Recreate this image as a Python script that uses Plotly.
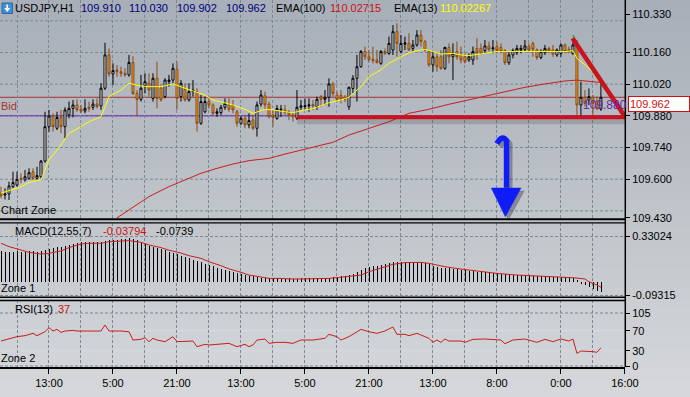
import plotly.graph_objects as go
from plotly.subplots import make_subplots

# ---------------- data ----------------
bar_idx = list(range(151))
opens = [109.538, 109.530, 109.535, 109.567, 109.574, 109.604, 109.597, 109.604, 109.633, 109.604,
 109.611, 109.680, 109.832, 109.879, 109.825, 109.873, 109.832, 109.884, 109.913, 109.928,
 109.909, 109.901, 109.918, 109.918, 109.932, 109.924, 110.002, 110.149, 110.065, 110.083,
 110.075, 110.068, 110.061, 110.116, 109.979, 109.953, 110.013, 110.024, 109.957, 110.046,
 110.002, 109.965, 110.031, 110.038, 110.086, 109.965, 109.997, 109.950, 109.987, 109.987,
 109.847, 109.898, 109.943, 109.928, 109.891, 109.894, 109.918, 109.932, 109.928, 109.898,
 109.847, 109.869, 109.840, 109.862, 109.825, 109.932, 109.968, 109.932, 109.884, 109.869,
 109.906, 109.906, 109.898, 109.884, 109.869, 109.918, 109.921, 109.924, 109.930, 109.920,
 109.965, 109.953, 109.962, 110.021, 109.972, 109.970, 109.962, 109.920, 110.001, 110.046,
 110.097, 110.164, 110.141, 110.130, 110.127, 110.112, 110.164, 110.156, 110.171, 110.252,
 110.164, 110.197, 110.200, 110.178, 110.193, 110.237, 110.208, 110.164, 110.105, 110.141,
 110.141, 110.090, 110.182, 110.141, 110.164, 110.149, 110.141, 110.127, 110.127, 110.178,
 110.178, 110.168, 110.189, 110.176, 110.186, 110.182, 110.168, 110.115, 110.149, 110.159,
 110.171, 110.174, 110.186, 110.200, 110.171, 110.138, 110.159, 110.178, 110.171, 110.149,
 110.156, 110.193, 110.174, 110.156, 110.190, 109.928, 109.962, 109.950, 109.962, 109.945,
 109.910]
highs = [109.567, 109.560, 109.589, 109.633, 109.633, 109.626, 109.641, 109.648, 109.648, 109.655,
 109.685, 109.898, 109.906, 109.891, 109.898, 109.906, 109.918, 109.943, 109.950, 109.953,
 109.928, 109.953, 109.943, 109.953, 109.957, 110.024, 110.203, 110.178, 110.112, 110.105,
 110.097, 110.090, 110.149, 110.144, 109.994, 110.061, 110.068, 110.068, 110.068, 110.119,
 110.016, 110.046, 110.061, 110.112, 110.119, 110.038, 110.024, 110.024, 110.038, 110.002,
 109.972, 109.965, 109.965, 109.935, 109.913, 109.928, 109.957, 109.957, 109.950, 109.906,
 109.879, 109.884, 109.891, 109.884, 109.943, 109.994, 109.987, 109.943, 109.906, 109.928,
 109.928, 109.928, 109.906, 109.898, 109.994, 109.950, 109.957, 109.957, 109.950, 109.965,
 109.972, 109.994, 110.046, 110.031, 109.987, 109.994, 109.972, 110.009, 110.060, 110.149,
 110.171, 110.186, 110.171, 110.186, 110.171, 110.171, 110.178, 110.230, 110.281, 110.289,
 110.237, 110.230, 110.245, 110.215, 110.259, 110.259, 110.215, 110.171, 110.164, 110.156,
 110.171, 110.186, 110.200, 110.200, 110.208, 110.186, 110.156, 110.156, 110.186, 110.223,
 110.200, 110.215, 110.208, 110.215, 110.208, 110.200, 110.174, 110.164, 110.178, 110.193,
 110.193, 110.215, 110.200, 110.208, 110.178, 110.174, 110.193, 110.186, 110.193, 110.178,
 110.200, 110.200, 110.186, 110.215, 110.215, 110.031, 109.994, 110.001, 109.972, 109.965,
 110.030]
lows = [109.515, 109.510, 109.508, 109.560, 109.567, 109.582, 109.589, 109.597, 109.597, 109.599,
 109.604, 109.673, 109.810, 109.810, 109.817, 109.803, 109.781, 109.869, 109.873, 109.898,
 109.891, 109.891, 109.898, 109.906, 109.913, 109.906, 109.994, 110.053, 110.016, 110.053,
 110.053, 110.053, 110.053, 109.972, 109.879, 109.943, 109.979, 109.965, 109.943, 109.913,
 109.943, 109.957, 110.009, 110.024, 109.906, 109.943, 109.943, 109.943, 109.965, 109.810,
 109.840, 109.891, 109.913, 109.884, 109.876, 109.884, 109.906, 109.898, 109.891, 109.832,
 109.840, 109.825, 109.825, 109.817, 109.788, 109.921, 109.906, 109.869, 109.832, 109.862,
 109.876, 109.884, 109.862, 109.854, 109.862, 109.906, 109.906, 109.898, 109.906, 109.906,
 109.920, 109.928, 109.920, 109.965, 109.943, 109.935, 109.940, 109.906, 109.980, 109.943,
 110.093, 110.127, 110.119, 110.112, 110.112, 110.105, 110.149, 110.149, 110.149, 110.141,
 110.156, 110.171, 110.168, 110.164, 110.186, 110.186, 110.164, 110.097, 110.075, 110.075,
 110.083, 110.083, 110.112, 110.038, 110.127, 110.112, 110.112, 110.119, 110.105, 110.127,
 110.149, 110.156, 110.164, 110.156, 110.156, 110.156, 110.105, 110.105, 110.134, 110.149,
 110.156, 110.164, 110.159, 110.141, 110.127, 110.130, 110.149, 110.156, 110.141, 110.141,
 110.141, 110.156, 110.156, 110.149, 109.884, 109.879, 109.920, 109.928, 109.879, 109.905,
 109.902]
closes = [109.526, 109.535, 109.570, 109.585, 109.599, 109.599, 109.611, 109.629, 109.604, 109.616,
 109.680, 109.832, 109.879, 109.832, 109.873, 109.832, 109.906, 109.913, 109.928, 109.906,
 109.901, 109.913, 109.912, 109.932, 109.921, 110.002, 110.149, 110.065, 110.080, 110.075,
 110.068, 110.061, 110.116, 109.979, 109.953, 110.002, 110.031, 109.994, 110.046, 109.957,
 109.950, 110.038, 110.038, 110.090, 109.957, 110.024, 109.950, 109.987, 109.994, 109.847,
 109.943, 109.943, 109.928, 109.891, 109.898, 109.918, 109.935, 109.909, 109.906, 109.847,
 109.869, 109.840, 109.859, 109.825, 109.928, 109.972, 109.928, 109.876, 109.873, 109.913,
 109.909, 109.894, 109.884, 109.876, 109.918, 109.924, 109.925, 109.928, 109.924, 109.953,
 109.953, 109.962, 110.021, 109.979, 109.953, 109.955, 109.953, 110.006, 110.046, 110.097,
 110.164, 110.141, 110.130, 110.124, 110.115, 110.164, 110.156, 110.200, 110.252, 110.200,
 110.200, 110.202, 110.171, 110.193, 110.237, 110.208, 110.171, 110.105, 110.141, 110.097,
 110.090, 110.182, 110.141, 110.156, 110.141, 110.127, 110.119, 110.141, 110.164, 110.159,
 110.156, 110.189, 110.174, 110.180, 110.168, 110.164, 110.115, 110.149, 110.168, 110.178,
 110.178, 110.189, 110.171, 110.174, 110.138, 110.164, 110.178, 110.168, 110.153, 110.171,
 110.193, 110.164, 110.164, 110.193, 109.928, 109.962, 109.935, 109.965, 109.935, 109.912,
 109.962]

ema13_idx = [0, 2, 5, 7, 10, 11, 12, 15, 17, 20, 22, 25, 26, 27, 30, 32, 35, 37, 40, 43, 46, 48,
             51, 53, 56, 58, 61, 63, 66, 68, 71, 73, 76, 78, 82, 85, 87, 90, 92, 95, 97, 100,
             102, 105, 106, 108, 110, 113, 115, 117, 124, 133, 141, 143, 144, 146, 148, 149, 150]
ema13_val = [109.538, 109.549, 109.567, 109.585, 109.597, 109.641, 109.685, 109.751, 109.803,
             109.832, 109.854, 109.876, 109.921, 109.965, 109.994, 110.024, 110.012, 110.009,
             110.009, 110.021, 110.002, 109.991, 109.972, 109.950, 109.938, 109.928, 109.909,
             109.891, 109.909, 109.906, 109.898, 109.894, 109.906, 109.912, 109.938, 109.950,
             109.962, 110.009, 110.053, 110.083, 110.112, 110.141, 110.159, 110.171, 110.174,
             110.164, 110.153, 110.156, 110.149, 110.146, 110.164, 110.164, 110.164, 110.168,
             110.134, 110.105, 110.075, 110.046, 110.023]

ema100_idx = [29, 33, 37, 42, 46, 50, 54, 58, 62, 67, 71, 75, 79, 83, 87, 92, 97, 102, 107,
              112, 117, 121, 126, 131, 136, 141, 144, 146, 150]
ema100_val = [109.429, 109.476, 109.523, 109.567, 109.596, 109.626, 109.648, 109.667, 109.682,
              109.692, 109.711, 109.729, 109.747, 109.763, 109.795, 109.825, 109.854, 109.891,
              109.909, 109.931, 109.950, 109.968, 109.987, 110.006, 110.021, 110.034, 110.038,
              110.035, 110.027]

macd_hist = [0.220, 0.218, 0.217, 0.219, 0.220, 0.218, 0.219, 0.221, 0.220, 0.219, 0.222, 0.228,
 0.236, 0.242, 0.248, 0.254, 0.261, 0.268, 0.275, 0.282,
 0.287, 0.288, 0.289, 0.290, 0.289, 0.290, 0.295,
 0.300, 0.303, 0.305, 0.308, 0.312, 0.318,
 0.312, 0.305, 0.290, 0.275, 0.258, 0.250, 0.242, 0.235, 0.227, 0.219, 0.210, 0.200, 0.190,
 0.180, 0.171, 0.161, 0.150, 0.142, 0.132, 0.123, 0.114, 0.104, 0.095, 0.088, 0.080, 0.073,
 0.065, 0.058, 0.052, 0.046, 0.041, 0.036, 0.032, 0.029, 0.027, 0.026, 0.026, 0.025, 0.025,
 0.026, 0.025, 0.025, 0.026, 0.026, 0.026,
 0.026, 0.027, 0.027, 0.028, 0.030, 0.033, 0.036, 0.040, 0.044, 0.050, 0.060, 0.075, 0.088,
 0.100, 0.108, 0.113, 0.118, 0.125, 0.132, 0.140, 0.146, 0.143, 0.145, 0.146, 0.144, 0.142,
 0.141, 0.141, 0.139, 0.132, 0.115, 0.108, 0.104, 0.102, 0.098, 0.096, 0.092, 0.089, 0.085,
 0.080, 0.078, 0.075, 0.074, 0.072, 0.070, 0.068, 0.063, 0.061, 0.058, 0.055, 0.053, 0.052,
 0.050, 0.049, 0.048, 0.046, 0.045, 0.043, 0.041, 0.039, 0.037, 0.036, 0.035, 0.033, 0.030,
 0.026, 0.015, -0.008, -0.020, -0.036, -0.050, -0.066, -0.074]

signal_idx = [0, 2, 5, 7, 10, 12, 15, 17, 20, 22, 25, 27, 30, 32, 35, 37, 40, 42, 45, 47, 50, 52,
              55, 57, 60, 62, 65, 67, 70, 72, 75, 78, 82, 86, 90, 92, 95, 98, 101, 105, 107, 111,
              115, 119, 124, 129, 134, 139, 143, 146, 147, 149, 150]
signal_val = [0.278, 0.254, 0.230, 0.213, 0.201, 0.206, 0.223, 0.247, 0.273, 0.278, 0.278, 0.289,
              0.294, 0.297, 0.285, 0.266, 0.247, 0.228, 0.208, 0.189, 0.170, 0.146, 0.117, 0.094,
              0.070, 0.050, 0.036, 0.026, 0.026, 0.022, 0.022, 0.022, 0.026, 0.038, 0.050, 0.074,
              0.103, 0.127, 0.139, 0.141, 0.134, 0.110, 0.093, 0.079, 0.062, 0.050, 0.043, 0.038,
              0.031, 0.022, 0.002, -0.021, -0.038]

rsi_idx = [0, 2, 4, 6, 8, 9, 11, 12, 13, 14, 15, 16, 18, 19, 21, 25, 26, 27, 30, 32, 33, 35, 36,
           37, 38, 39, 41, 42, 43, 44, 46, 48, 49, 51, 52, 55, 57, 59, 61, 62, 63, 64, 66, 67, 69,
           71, 73, 75, 78, 81, 82, 84, 85, 87, 90, 92, 94, 96, 98, 99, 101, 102, 104, 106, 107,
           108, 109, 110, 111, 112, 115, 116, 118, 121, 125, 126, 128, 131, 134, 136, 138, 140,
           142, 143, 144, 145, 147, 148, 149, 150]
rsi_val = [49.5, 53.5, 58.1, 60.1, 64.7, 60.1, 68.0, 75.9, 69.3, 72.6, 66.7, 69.3, 70.6, 69.3, 69.3,
           69.3, 81.2, 69.3, 69.3, 68.0, 51.5, 52.8, 56.1, 48.2, 54.8, 51.5, 48.2, 52.8, 58.1, 48.2,
           48.2, 49.5, 38.3, 42.9, 41.6, 42.9, 44.9, 38.3, 42.9, 38.3, 41.6, 51.5, 53.5, 44.9, 46.9,
           46.9, 44.9, 51.5, 51.5, 54.8, 62.7, 58.1, 51.5, 58.1, 72.6, 68.0, 64.7, 69.3, 77.2, 62.7,
           62.7, 60.1, 64.7, 58.1, 54.8, 46.9, 51.5, 46.9, 53.5, 49.5, 49.5, 46.9, 52.8, 53.5, 51.5,
           44.2, 51.5, 53.5, 46.9, 52.8, 48.2, 53.5, 49.5, 53.5, 25.1, 29.7, 29.7, 28.4, 27.1, 36.0]

time_tick_idx = [12, 28, 44, 60, 76, 92, 108, 124, 140, 156]
time_tick_text = ["13:00", "5:00", "21:00", "13:00", "5:00", "21:00", "13:00", "8:00", "0:00", "16:00"]
price_ticks = [110.330, 110.160, 110.020, 109.880, 109.740, 109.600, 109.430]
price_grid = [109.46, 109.60, 109.74, 109.88, 110.02, 110.16, 110.30]
macd_ticks = [0.33024, -0.09315]
rsi_ticks = [105, 70, 30, 0]
rsi_levels = [70, 30]

symbol_text = "USDJPY,H1"
ema100_text = "110.02715"
ema13_text = "110.02267"
macd_label_vals = ["-0.03794", "-0.0739"]
rsi_last_text = "37"
bid_price = 109.962
level_price = 109.880
support_price = 109.874
support_start = 74
wedge_start = (142.9, 110.223)
wedge_end = (156.0, 109.877)
green_start = (143.0, 110.237)
green_end = (155.0, 109.888)

# ---------------- layout geometry ----------------
W, H = 690, 397
PW, PH = 625, 367          # plot area (pixels)
FONT = "Liberation Sans, Arial, sans-serif"


def xp(px):
    return px / PW


def yp(py):
    return (PH - py) / PH


main_range = [109.4285, 110.3919]
macd_range = [-0.1075, 0.4235]
rsi_range = [-1.97, 130.75]
x_range = [-0.25, 156.02]
GRID = "#7b8898"

fig = make_subplots(rows=3, cols=1, shared_xaxes=True, vertical_spacing=0.0)

fig.add_trace(go.Candlestick(
    x=bar_idx, open=opens, high=highs, low=lows, close=closes,
    increasing=dict(line=dict(color="#000000", width=1), fillcolor="#ffffff"),
    decreasing=dict(line=dict(color="#8b4a14", width=1), fillcolor="#f0a020"),
    whiskerwidth=0, hoverinfo="skip", showlegend=False), row=1, col=1)
fig.add_trace(go.Scatter(x=ema100_idx, y=ema100_val, mode="lines",
                         line=dict(color="#c81e1e", width=1), hoverinfo="skip",
                         showlegend=False), row=1, col=1)
fig.add_trace(go.Scatter(x=ema13_idx, y=ema13_val, mode="lines",
                         line=dict(color="#ffff00", width=1), hoverinfo="skip",
                         showlegend=False), row=1, col=1)

# thin 1-px histogram bars (offset keeps each bar inside a single pixel column)
fig.add_trace(go.Bar(x=bar_idx, y=macd_hist, width=0.2, offset=0.03,
                     marker=dict(color="#000000", line=dict(width=0)),
                     hoverinfo="skip", showlegend=False), row=2, col=1)
fig.add_trace(go.Scatter(x=signal_idx, y=signal_val, mode="lines",
                         line=dict(color="#c81e1e", width=1), hoverinfo="skip",
                         showlegend=False), row=2, col=1)

fig.add_trace(go.Scatter(x=rsi_idx, y=rsi_val, mode="lines",
                         line=dict(color="#c81e1e", width=1), hoverinfo="skip",
                         showlegend=False), row=3, col=1)

tickfont = dict(family=FONT, size=11, color="#000000")

xcommon = dict(range=x_range, showgrid=True, gridcolor=GRID, griddash="3px,2px", gridwidth=1,
               tickvals=time_tick_idx, zeroline=False, rangeslider=dict(visible=False),
               minor=dict(tick0=4, dtick=8, showgrid=True, gridcolor=GRID, griddash="3px,2px",
                          gridwidth=1, ticks=""))
fig.update_layout(
    xaxis=dict(**xcommon, showticklabels=False, ticks=""),
    xaxis2=dict(**xcommon, showticklabels=False, ticks=""),
    xaxis3=dict(**xcommon, ticktext=time_tick_text, ticks="outside", ticklen=5,
                tickcolor="#000000", tickfont=tickfont, showline=True, linecolor="#000000",
                linewidth=1.5),
    yaxis=dict(domain=[yp(218), yp(0)], range=main_range, side="right", showgrid=False,
               zeroline=False, tickvals=price_ticks, ticktext=[f"{v:.3f}" for v in price_ticks],
               ticks="outside", ticklen=4, tickcolor="#000000", tickfont=tickfont),
    yaxis2=dict(domain=[yp(297), yp(223)], range=macd_range, side="right", showgrid=True,
                gridcolor=GRID, griddash="3px,2px", zeroline=False, tickvals=macd_ticks,
                ticktext=[f"{v:.5f}" for v in macd_ticks], ticks="outside", ticklen=4,
                tickcolor="#000000", tickfont=tickfont),
    yaxis3=dict(domain=[yp(367), yp(300)], range=rsi_range, side="right", showgrid=False,
                zeroline=False, tickvals=rsi_ticks, ticktext=[str(v) for v in rsi_ticks],
                ticks="outside", ticklen=4, tickcolor="#000000", tickfont=tickfont),
    width=W, height=H, margin=dict(l=0, r=W - PW, t=0, b=H - PH, pad=0),
    paper_bgcolor="#bfc3c8", plot_bgcolor="rgba(0,0,0,0)", showlegend=False,
    bargap=0, hovermode=False, font=dict(family=FONT, size=11, color="#000000"),
)

shapes = []
# background vertical gradient
top_c = (168, 175, 184)
bot_c = (213, 215, 218)
nb = 40
for k in range(nb):
    t = k / (nb - 1)
    c = tuple(round(top_c[j] + (bot_c[j] - top_c[j]) * t) for j in range(3))
    y0 = k * H / nb
    y1 = (k + 1) * H / nb + 0.6
    shapes.append(dict(type="rect", xref="paper", yref="paper", x0=-0.01, x1=xp(W) + 0.01,
                       y0=yp(y1), y1=yp(y0), fillcolor=f"rgb{c}", line=dict(width=0),
                       layer="below"))
# main price grid
for g in price_grid:
    shapes.append(dict(type="line", xref="paper", yref="y", x0=0, x1=1, y0=g, y1=g,
                       line=dict(color=GRID, width=1, dash="3px,2px"), layer="below"))
# rsi grid
for g in [rsi_ticks[0], rsi_ticks[-1]]:
    shapes.append(dict(type="line", xref="paper", yref="y3", x0=0, x1=1, y0=g, y1=g,
                       line=dict(color=GRID, width=1, dash="3px,2px"), layer="below"))
for g in rsi_levels:
    shapes.append(dict(type="line", xref="paper", yref="y3", x0=0, x1=1, y0=g, y1=g,
                       line=dict(color="rgba(222,225,229,0.6)", width=1), layer="below"))
# bid and level lines
shapes.append(dict(type="line", xref="paper", yref="y", x0=0, x1=1, y0=bid_price, y1=bid_price,
                   line=dict(color="#a83232", width=1), layer="below"))
shapes.append(dict(type="line", xref="paper", yref="y", x0=0, x1=1, y0=level_price, y1=level_price,
                   line=dict(color="#6a28a8", width=1), layer="below"))
# drawn trend lines
shapes.append(dict(type="line", xref="x", yref="y", x0=support_start, x1=x_range[1],
                   y0=support_price - 0.02, y1=support_price - 0.02,
                   line=dict(color="rgba(60,60,70,0.22)", width=5), layer="above"))
shapes.append(dict(type="line", xref="x", yref="y", x0=support_start, x1=x_range[1],
                   y0=support_price, y1=support_price,
                   line=dict(color="#c8141e", width=4), layer="above"))
shapes.append(dict(type="line", xref="x", yref="y", x0=green_start[0], x1=green_end[0],
                   y0=green_start[1], y1=green_end[1],
                   line=dict(color="#2f8f2f", width=1.2, dash="dot"), layer="above"))
shapes.append(dict(type="line", xref="x", yref="y", x0=wedge_start[0], x1=wedge_end[0],
                   y0=wedge_start[1], y1=wedge_end[1],
                   line=dict(color="#c8141e", width=4.5), layer="above"))
# blue arrow (shadow + arrow)
for dx, dy, col in [(0.8, -0.013, "rgba(30,30,60,0.35)"), (0, 0, "#0f1cf5")]:
    shapes.append(dict(type="path", xref="x", yref="y", layer="above",
                       path=(f"M {124.0+dx},{109.757+dy} Q {125.3+dx},{109.800+dy} "
                             f"{126.4+dx},{109.770+dy} L {126.4+dx},{109.562+dy}"),
                       line=dict(color=col, width=5.5), fillcolor="rgba(0,0,0,0)"))
    shapes.append(dict(type="path", xref="x", yref="y", layer="above",
                       path=(f"M {122.6+dx},{109.561+dy} L {130.0+dx},{109.561+dy} "
                             f"L {126.1+dx},{109.434+dy} Z"),
                       line=dict(color=col, width=0.5), fillcolor=col))
# panel separators and right axis line
for py, w in [(219.2, 2), (222.8, 1.2), (297.2, 1.5), (300.6, 1.5)]:
    shapes.append(dict(type="line", xref="paper", yref="paper", x0=0, x1=1, y0=yp(py), y1=yp(py),
                       line=dict(color="#000000", width=w), layer="above"))
shapes.append(dict(type="line", xref="paper", yref="paper", x0=xp(625.3), x1=xp(625.3),
                   y0=yp(0), y1=yp(367), line=dict(color="#000000", width=1.5), layer="above"))
# header icon
shapes.append(dict(type="rect", xref="paper", yref="paper", x0=xp(2), x1=xp(12.5),
                   y0=yp(13.5), y1=yp(3), fillcolor="#3d8fd6", line=dict(color="#2a6aa8", width=1),
                   layer="above"))
shapes.append(dict(type="path", xref="paper", yref="paper", layer="above",
                   path=(f"M {xp(6.4)},{yp(4.5)} L {xp(8.1)},{yp(4.5)} L {xp(8.1)},{yp(8)} "
                         f"L {xp(10.3)},{yp(8)} L {xp(7.25)},{yp(12)} L {xp(4.2)},{yp(8)} "
                         f"L {xp(6.4)},{yp(8)} Z"),
                   fillcolor="#ffffff", line=dict(width=0)))
fig.update_layout(shapes=shapes)


def label(px, py, text, color="#000000", size=11, anchor="left", **kw):
    fig.add_annotation(x=xp(px), y=yp(py), xref="paper", yref="paper", text=text,
                       showarrow=False, xanchor=anchor, yanchor="middle",
                       font=dict(family=FONT, size=size, color=color), borderpad=0, **kw)


# header
label(14, 8.5, symbol_text)
hdr_vals = [opens[-1], highs[-1], lows[-1], closes[-1]]
for px, v in zip([80, 128, 176, 225], hdr_vals):
    label(px, 8.5, f"{v:.3f}", color="#00007a")
label(275, 8.5, "EMA(100)")
label(329, 8.5, ema100_text, color="#cc1111")
label(393, 8.5, "EMA(13)")
label(439, 8.5, ema13_text, color="#ffff00")

label(0, 106, "Bid", color="#a83232")
label(0, 210, "Chart Zone")
label(14, 231, "MACD(12,55,7)")
label(102, 231, macd_label_vals[0], color="#cc1111")
label(155, 231, macd_label_vals[1])
label(0, 288, "Zone 1")
label(14, 308.5, "RSI(13)")
label(57, 308.5, rsi_last_text, color="#cc1111")
label(0, 358, "Zone 2")

label(582, 104.5, f"{level_price:.3f}", color="#6a28a8", size=12)

# current price box on the axis
fig.add_annotation(x=xp(628), y=yp(104), xref="paper", yref="paper",
                   text=f"{closes[-1]:.3f}", showarrow=False, xanchor="left", yanchor="middle",
                   font=dict(family=FONT, size=11, color="#cc1111"), bgcolor="#ffffff",
                   bordercolor="#cc1111", borderwidth=1, borderpad=1, width=58, align="left")

fig.write_html("out.html", config={"displayModeBar": False},
               post_script="document.body.style.margin='0';document.body.style.padding='0';")
